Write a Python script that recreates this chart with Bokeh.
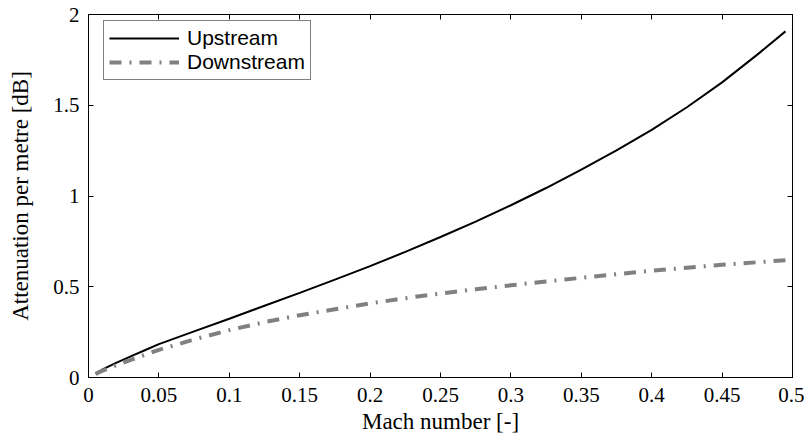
from bokeh.plotting import figure
from bokeh.models import (LinearAxis, Legend, LegendItem, FixedTicker, Range1d,
                          CustomLabelingPolicy)
from bokeh.embed import file_html
from bokeh.resources import INLINE

# Attenuation per metre versus Mach number
mach = [0.005, 0.01, 0.02, 0.03, 0.04, 0.05, 0.075, 0.1, 0.125, 0.15, 0.175, 0.2,
        0.225, 0.25, 0.275, 0.3, 0.325, 0.35, 0.375, 0.4, 0.425, 0.45, 0.475, 0.495]
upstream = [0.022, 0.045, 0.082, 0.116, 0.15, 0.184, 0.254, 0.324, 0.395, 0.466, 0.539, 0.614,
            0.692, 0.774, 0.859, 0.949, 1.044, 1.145, 1.251, 1.364, 1.489, 1.626, 1.779, 1.907]
downstream = [0.02, 0.038, 0.068, 0.097, 0.125, 0.152, 0.21, 0.261, 0.305, 0.343, 0.376, 0.408,
              0.437, 0.463, 0.486, 0.508, 0.529, 0.549, 0.569, 0.588, 0.605, 0.621, 0.635, 0.646]

x_ticks = [0, 0.05, 0.1, 0.15, 0.2, 0.25, 0.3, 0.35, 0.4, 0.45, 0.5]
x_tick_labels = ["0", "0.05", "0.1", "0.15", "0.2", "0.25", "0.3", "0.35", "0.4", "0.45", "0.5"]
y_ticks = [0, 0.5, 1, 1.5, 2]
y_tick_labels = ["0", "0.5", "1", "1.5", "2"]

SERIF = "Liberation Serif"
SANS = "Liberation Sans"

p = figure(frame_width=704, frame_height=363, output_backend="svg", toolbar_location=None,
           x_range=Range1d(0, 0.5), y_range=Range1d(0, 2),
           min_border_left=88, min_border_right=12, min_border_top=14, min_border_bottom=61,
           x_axis_label="Mach number [-]", y_axis_label="Attenuation per metre [dB]")
p.grid.visible = False
p.outline_line_color = "black"
p.outline_line_width = 1
p.background_fill_color = "white"
p.border_fill_color = "white"

for ax, ticks, labels in ((p.xaxis[0], x_ticks, x_tick_labels), (p.yaxis[0], y_ticks, y_tick_labels)):
    ax.ticker = FixedTicker(ticks=ticks)
    ax.major_label_overrides = {t: l for t, l in zip(ticks, labels)}
    ax.minor_tick_line_color = None
    ax.major_tick_in = 5
    ax.major_tick_out = 0
    ax.major_tick_line_color = "black"
    ax.axis_line_color = "black"
    ax.major_label_text_font = SERIF
    ax.major_label_text_font_size = "21px"
    ax.major_label_text_color = "black"
    ax.axis_label_text_font = SERIF
    ax.axis_label_text_font_size = "23px"
    ax.axis_label_text_font_style = "normal"
    ax.axis_label_text_color = "black"

p.xaxis[0].major_label_standoff = 10
p.xaxis[0].axis_label_standoff = 4
p.yaxis[0].major_label_standoff = 9
p.yaxis[0].axis_label_standoff = 17

# mirrored tick marks on the top and right edges, without labels
hide_all = CustomLabelingPolicy(code="for (const i of indices) { indices.unset(i) } return indices")
for side, ticks in (("above", x_ticks), ("right", y_ticks)):
    ax = LinearAxis(ticker=FixedTicker(ticks=ticks), major_label_policy=hide_all,
                    major_label_text_font_size="1px",
                    minor_tick_line_color=None, major_tick_in=5, major_tick_out=0,
                    major_tick_line_color="black", axis_line_color="black")
    p.add_layout(ax, side)

up = p.line(mach, upstream, line_color="black", line_width=2)
down = p.line(mach, downstream, line_color="#808080", line_width=4, line_dash="12 8 2 8")

legend = Legend(items=[LegendItem(label="Upstream", renderers=[up]),
                       LegendItem(label="Downstream", renderers=[down])],
                location=(15, 297), padding=5, spacing=0, margin=0,
                glyph_width=70, glyph_height=24, label_height=24, label_standoff=8,
                label_text_font=SANS, label_text_font_size="21px", label_text_color="black",
                border_line_color="black", border_line_width=1,
                background_fill_color="white", background_fill_alpha=1)
p.add_layout(legend, "center")

open("out.html", "w").write(file_html(p, INLINE))
